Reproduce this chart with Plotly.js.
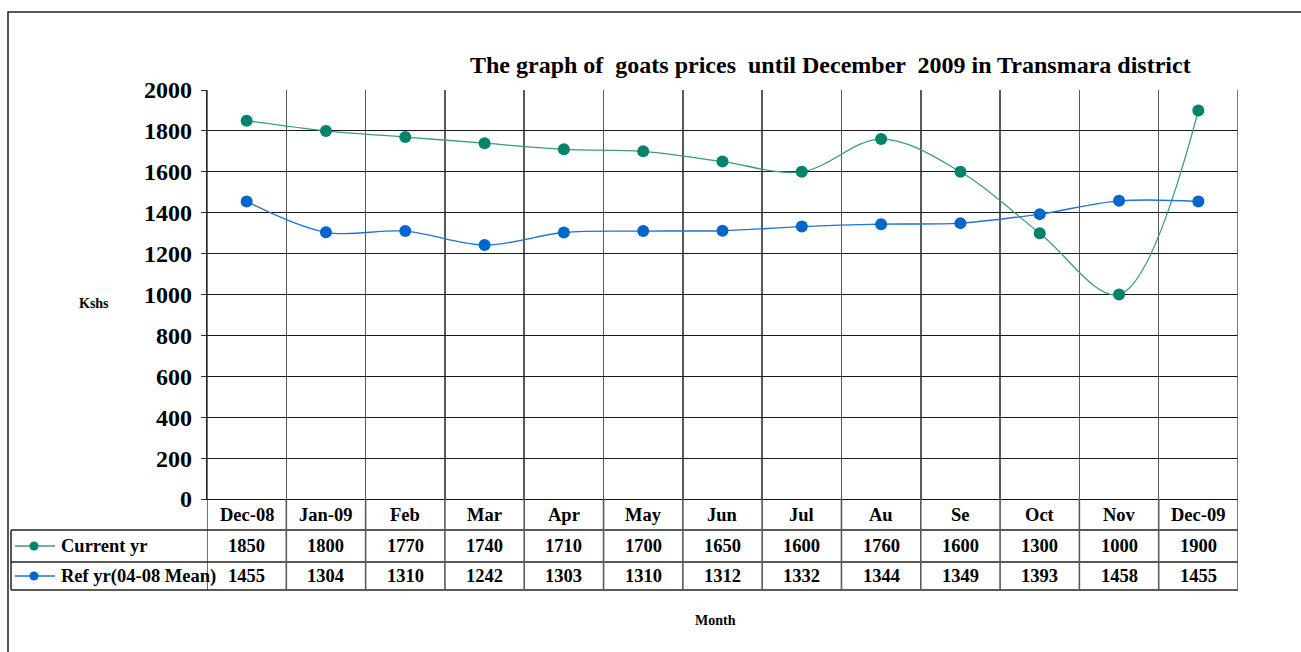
<!DOCTYPE html>
<html>
<head>
<meta charset="utf-8">
<script src="https://cdn.plot.ly/plotly-3.0.1.min.js"></script>
<style>
html,body{margin:0;padding:0;background:#fff;}
#chart{width:1301px;height:652px;}
</style>
</head>
<body>
<div id="chart"></div>
<script>
// ---- data ----
const categories = ["Dec-08","Jan-09","Feb","Mar","Apr","May","Jun","Jul","Au","Se","Oct","Nov","Dec-09"];
const currentYr = [1850,1800,1770,1740,1710,1700,1650,1600,1760,1600,1300,1000,1900];
const refYr = [1455,1304,1310,1242,1303,1310,1312,1332,1344,1349,1393,1458,1455];
const seriesNames = ["Current yr","Ref yr(04-08 Mean)"];
const yTicks = [0,200,400,600,800,1000,1200,1400,1600,1800,2000];
const titleText = "The graph of \u00a0goats prices \u00a0until December \u00a02009 in Transmara district";

// ---- layout helpers (pixel -> paper) ----
const W = 1301, H = 652;
const M = {l:207, r:63, t:90, b:153};
const PW = W - M.l - M.r, PH = H - M.t - M.b;
const px = p => (p - M.l) / PW;
const py = p => (H - M.b - p) / PH;

const FONT = "Liberation Serif, Times New Roman, serif";
const GREEN = "#00836b", GREEN_LINE = "#3a9e72";
const BLUE = "#0066cc", BLUE_LINE = "#1f74d4";

const idx = categories.map((_, i) => i);

const traces = [
  {x: idx, y: currentYr, name: seriesNames[0], mode: "lines+markers",
   line: {color: GREEN_LINE, width: 1.3, shape: "spline", smoothing: 1},
   marker: {color: GREEN, size: 12}, hoverinfo: "skip"},
  {x: idx, y: refYr, name: seriesNames[1], mode: "lines+markers",
   line: {color: BLUE_LINE, width: 1.4, shape: "spline", smoothing: 1},
   marker: {color: BLUE, size: 12}, hoverinfo: "skip"}
];

const shapes = [];
const annotations = [];

// outer frame
shapes.push({type: "rect", xref: "paper", yref: "paper",
  x0: px(8), x1: px(1320), y0: py(12), y1: py(670),
  line: {color: "#222", width: 1.5}, layer: "below"});

// table rows
const rowHeader = py(499), rowLine1 = py(530), rowLine2 = py(562), rowBottom = py(590);
[rowLine1, rowLine2, rowBottom].forEach(y => {
  shapes.push({type: "line", xref: "paper", yref: "paper", x0: px(11), x1: 1, y0: y, y1: y,
    line: {color: "#222", width: 1.5}});
});
// legend column left border
shapes.push({type: "line", xref: "paper", yref: "paper", x0: px(11), x1: px(11), y0: rowLine1, y1: rowBottom,
  line: {color: "#222", width: 1.5}});
// table vertical lines at category boundaries
for (let i = 0; i <= categories.length; i++) {
  shapes.push({type: "line", xref: "x", yref: "paper", x0: i - 0.5, x1: i - 0.5, y0: rowBottom, y1: (i === 0 ? 1 : 0),
    line: {color: i === 0 ? "#222" : "#5a5a5a", width: i === 0 ? 1.3 : 1.6}});
}
// right border of plot
shapes.push({type: "line", xref: "x", yref: "paper", x0: categories.length - 0.5, x1: categories.length - 0.5, y0: 0, y1: 1,
  line: {color: "#5a5a5a", width: 1.6}});

// category labels and values
const hdrY = (rowHeader + rowLine1) / 2, r1Y = (rowLine1 + rowLine2) / 2, r2Y = (rowLine2 + rowBottom) / 2;
const cellFont = {family: FONT, size: 18.5, color: "#000", weight: "bold"};
categories.forEach((c, i) => {
  annotations.push({x: i, y: hdrY, xref: "x", yref: "paper", text: c, showarrow: false,
    font: cellFont, xanchor: "center", yanchor: "middle"});
  annotations.push({x: i, y: r1Y, xref: "x", yref: "paper", text: String(currentYr[i]), showarrow: false,
    font: cellFont, xanchor: "center", yanchor: "middle"});
  annotations.push({x: i, y: r2Y, xref: "x", yref: "paper", text: String(refYr[i]), showarrow: false,
    font: cellFont, xanchor: "center", yanchor: "middle"});
});

// legend keys
[[r1Y, GREEN_LINE, GREEN], [r2Y, BLUE_LINE, BLUE]].forEach(([y, lc, mc], k) => {
  shapes.push({type: "line", xref: "paper", yref: "paper", x0: px(15), x1: px(55), y0: y, y1: y,
    line: {color: lc, width: 1.3}});
  shapes.push({type: "circle", xref: "paper", yref: "paper", xsizemode: "pixel", ysizemode: "pixel",
    xanchor: px(34), yanchor: y, x0: -4.5, x1: 4.5, y0: -4.5, y1: 4.5,
    fillcolor: mc, line: {color: mc, width: 0}});
  annotations.push({x: px(59), y: y, xref: "paper", yref: "paper", text: seriesNames[k], showarrow: false,
    font: cellFont, xanchor: "left", yanchor: "middle"});
});

// title and axis titles
annotations.push({x: px(830), y: py(65), xref: "paper", yref: "paper", text: titleText, showarrow: false,
  font: {family: FONT, size: 24, color: "#000", weight: "bold"}, xanchor: "center", yanchor: "middle"});
annotations.push({x: px(94), y: py(303), xref: "paper", yref: "paper", text: "Kshs", showarrow: false,
  font: {family: FONT, size: 14, color: "#000", weight: "bold"}, xanchor: "center", yanchor: "middle"});
annotations.push({x: px(715), y: py(620), xref: "paper", yref: "paper", text: "Month", showarrow: false,
  font: {family: FONT, size: 14, color: "#000", weight: "bold"}, xanchor: "center", yanchor: "middle"});

const layout = {
  width: W, height: H,
  margin: M,
  paper_bgcolor: "#fff", plot_bgcolor: "#fff",
  showlegend: false,
  xaxis: {type: "linear", range: [-0.5, categories.length - 0.5], tick0: -0.5, dtick: 1,
    showticklabels: false, ticks: "", showgrid: true, gridcolor: "#5a5a5a", gridwidth: 1.6,
    zeroline: false, showline: true, linecolor: "#111", linewidth: 1.3, fixedrange: true},
  yaxis: {range: [0, 2000], tickvals: yTicks, ticktext: yTicks.map(String),
    ticks: "outside", ticklen: 5, tickcolor: "#333", tickwidth: 1, ticklabelstandoff: 4,
    tickfont: {family: FONT, size: 24, color: "#000", weight: "bold"},
    showgrid: true, gridcolor: "#1a1a1a", gridwidth: 1, zeroline: false,
    showline: true, linecolor: "#222", linewidth: 1.3, fixedrange: true},
  shapes: shapes,
  annotations: annotations
};

Plotly.newPlot("chart", traces, layout, {staticPlot: true, displayModeBar: false});
</script>
</body>
</html>
